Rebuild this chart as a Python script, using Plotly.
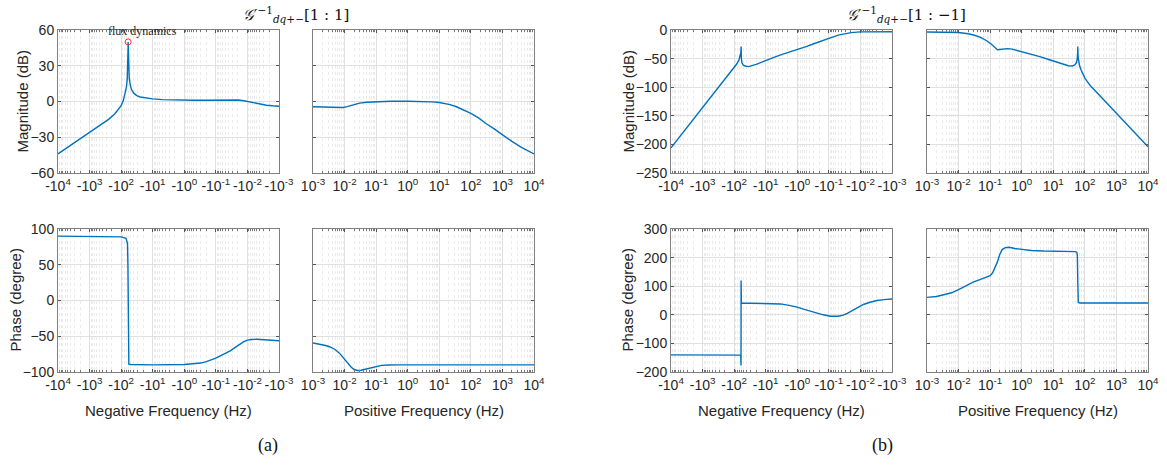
import math
import plotly.graph_objects as go

# ---------------- data (frequency magnitudes in Hz; negative panels plot -|f|) ----------------
# (a) magnitude, negative frequency
f_a_neg_mag = [1e4, 6e3, 4e3, 2.5e3, 1.6e3, 1e3, 630, 400, 250, 160, 120, 100, 85, 75, 68, 64, 62,
               61, 60.4, 60.0, 59.6, 59, 57.8, 55.5, 52, 47, 40, 32, 25, 16, 10, 5, 2, 1, 0.5, 0.2,
               0.1, 0.05, 0.03, 0.02, 0.013, 0.009, 0.006, 0.004, 0.0025, 0.0016, 0.001]
mag_a_neg = [-44, -40, -36.5, -33, -29.5, -26, -22.5, -19, -15, -10.5, -6.5, -3.5, 1, 6, 12, 19, 27,
             35, 44, 50, 44, 35, 27, 20, 14.5, 10, 7, 5, 3.8, 2.8, 2.2, 1.6, 1.2, 1, 1, 1,
             1.1, 1.2, 1.3, 1.2, 0.6, -0.3, -1.3, -2.3, -3.1, -3.6, -4]
# (a) magnitude, positive frequency
f_a_pos_mag = [0.001, 0.002, 0.004, 0.007, 0.009, 0.012, 0.016, 0.022, 0.03, 0.05, 0.1, 0.3, 1, 3,
               6, 10, 15, 22, 35, 55, 100, 180, 300, 550, 1e3, 2e3, 4e3, 1e4]
mag_a_pos = [-4.4, -4.6, -4.9, -5.1, -5.0, -4.3, -3.3, -2.2, -1.4, -0.6, -0.1, 0.2, 0.2, 0.1,
             -0.3, -0.8, -1.5, -2.6, -4.4, -6.7, -10, -14, -18.5, -23, -28, -33.5, -38.5, -44]
# (a) phase, negative frequency
f_a_neg_ph = [1e4, 1e3, 200, 100, 70, 63, 61, 60.3, 59.6, 59, 57, 50, 10, 1, 0.5, 0.3, 0.2, 0.13,
              0.1, 0.07, 0.05, 0.035, 0.025, 0.018, 0.013, 0.01, 0.0075, 0.005, 0.003, 0.0015, 0.001]
ph_a_neg = [90, 90, 89.5, 89, 87, 80, 50, 0, -60, -85, -89, -89.5, -90, -89.5, -88.8, -87.5, -85.5,
            -82.5, -80.5, -77, -74, -70.5, -66, -61.5, -57.5, -55.5, -54.5, -54.3, -54.8, -55.6, -56.2]
# (a) phase, positive frequency
f_a_pos_ph = [0.001, 0.0016, 0.0025, 0.0035, 0.005, 0.007, 0.009, 0.012, 0.016, 0.02, 0.026, 0.033,
              0.045, 0.065, 0.1, 0.15, 0.25, 0.5, 1e4]
ph_a_pos = [-59.5, -61, -63, -65, -68.5, -74, -80, -87, -93, -96.5, -97.8, -97.5, -96, -94, -92,
            -90.8, -90.2, -90, -90]

# (b) magnitude, negative frequency
f_b_neg_mag = [1e4, 1e3, 300, 174, 100, 83, 70, 64, 61.5, 60.3, 60.0, 59.7, 59, 57, 52, 45, 35, 20,
               10, 5, 3, 2, 1, 0.5, 0.3, 0.2, 0.1, 0.05, 0.03, 0.02, 0.01, 0.005, 0.001]
mag_b_neg = [-206, -135.3, -98.3, -81.6, -65, -59.5, -52, -46, -40, -32, -29, -40, -50, -57, -61,
             -63, -64, -60, -53, -47, -42.5, -39.5, -35, -28.5, -24, -20, -14.5, -9, -6, -4.5,
             -3.3, -3, -3]
# (b) magnitude, positive frequency
f_b_pos_mag = [0.001, 0.003, 0.006, 0.01, 0.02, 0.03, 0.05, 0.08, 0.11, 0.14, 0.17, 0.2, 0.25, 0.35,
               0.5, 0.9, 2, 4, 8, 17, 30, 40, 48, 54, 57.5, 59.2, 60, 60.6, 62, 64, 68, 75, 85,
               100, 130, 150, 300, 1e3, 3e3, 1e4]
mag_b_pos = [-3.5, -3.7, -3.9, -4.3, -6.5, -8.7, -13, -19.2, -25, -30.5, -34.5, -34, -33, -32.5,
             -33.5, -37, -42, -47, -52.5, -58.5, -62.5, -63, -61, -57, -50, -40, -29, -42, -50,
             -56, -62, -69, -76, -84, -93, -97.5, -115, -145, -173, -204]
# (b) phase, negative frequency
f_b_neg_ph = [1e4, 100, 62, 60.5, 60.2, 60.0, 59, 30, 10, 3.4, 2, 1, 0.6, 0.3, 0.15, 0.09, 0.07,
              0.05, 0.035, 0.026, 0.015, 0.008, 0.005, 0.003, 0.0018, 0.001]
ph_b_neg = [-140, -140, -141, -177, 120, 45, 41, 40.5, 40, 38, 34, 27, 19, 9, 0, -5, -6, -5, -1,
            5, 20, 36, 44, 50, 53, 55]
# (b) phase, positive frequency
f_b_pos_ph = [0.001, 0.002, 0.0034, 0.006, 0.01, 0.018, 0.03, 0.05, 0.08, 0.1, 0.12, 0.14, 0.17,
              0.2, 0.24, 0.3, 0.4, 0.6, 1, 2, 5, 20, 50, 56, 58, 59.5, 60.5, 62, 70, 1e4]
ph_b_pos = [61, 64, 70, 77, 88, 103, 115, 124, 131, 137, 147, 163, 185, 210, 228, 235, 236, 232,
            228, 225, 223, 222, 221, 218, 205, 120, 50, 43, 41, 41]

# marker for the resonance peak
peak_f = [60.0]
peak_mag = [50]

decades = [-3, -2, -1, 0, 1, 2, 3, 4]
neg_ticktext = ["-10<sup>%d</sup>" % d for d in decades]
pos_ticktext = ["10<sup>%d</sup>" % d for d in decades]

# ---------------- layout helpers ----------------
W, H = 1167, 466


def px_x(p):
    return p / W


def px_y(p):
    return 1 - p / H


BLUE = "#0072BD"
TICKFONT = dict(family="Liberation Sans, Arial", size=14, color="#262626")
minor_vals = [m * 10 ** d for d in range(-3, 4) for m in range(2, 10)]

fig = go.Figure()

panels = [
    ("a_nm", (58, 279), (30, 173), f_a_neg_mag, mag_a_neg, True),
    ("a_pm", (313, 534), (30, 173), f_a_pos_mag, mag_a_pos, False),
    ("a_np", (58, 279), (229, 372), f_a_neg_ph, ph_a_neg, True),
    ("a_pp", (313, 534), (229, 372), f_a_pos_ph, ph_a_pos, False),
    ("b_nm", (671, 892), (30, 173), f_b_neg_mag, mag_b_neg, True),
    ("b_pm", (927, 1148), (30, 173), f_b_pos_mag, mag_b_pos, False),
    ("b_np", (671, 892), (229, 372), f_b_neg_ph, ph_b_neg, True),
    ("b_pp", (927, 1148), (229, 372), f_b_pos_ph, ph_b_pos, False),
]
yspec = {
    "a_nm": (-60, 60, 30, True), "a_pm": (-60, 60, 30, False),
    "a_np": (-100, 100, 50, True), "a_pp": (-100, 100, 50, False),
    "b_nm": (-250, 0, 50, True), "b_pm": (-250, 0, 50, False),
    "b_np": (-200, 300, 100, True), "b_pp": (-200, 300, 100, False),
}

for i, (name, xr, yr, fr, vals, neg) in enumerate(panels):
    k = "" if i == 0 else str(i + 1)
    fig.add_trace(go.Scatter(x=fr, y=vals, mode="lines", line=dict(color=BLUE, width=1.4),
                             xaxis="x" + k, yaxis="y" + k, showlegend=False, hoverinfo="skip"))
    ylo, yhi, ydt, showlab = yspec[name]
    fig.layout["xaxis" + k] = dict(
        type="log", domain=[px_x(xr[0]), px_x(xr[1])], anchor="y" + k, automargin=False,
        range=[4, -3] if neg else [-3, 4],
        tickmode="array", tickvals=[10 ** d for d in decades],
        ticktext=neg_ticktext if neg else pos_ticktext, ticklabeloverflow="allow",
        ticks="inside", ticklen=3, tickcolor="#555", mirror="allticks",
        showline=True, linecolor="#808080", linewidth=1,
        showgrid=True, gridcolor="#e0e0e0", gridwidth=1,
        minor=dict(tickmode="array", tickvals=minor_vals, ticks="inside", ticklen=2,
                   tickcolor="#777", showgrid=True, gridcolor="#ebebeb", griddash="dot"),
        tickfont=TICKFONT, zeroline=False, fixedrange=True,
    )
    fig.layout["yaxis" + k] = dict(
        domain=[px_y(yr[1]), px_y(yr[0])], anchor="x" + k, automargin=False,
        range=[ylo, yhi], tickmode="linear", tick0=ylo, dtick=ydt,
        showticklabels=showlab, ticks="inside", ticklen=3, tickcolor="#555", mirror="allticks",
        showline=True, linecolor="#808080", linewidth=1,
        showgrid=True, gridcolor="#e0e0e0", gridwidth=1, zeroline=False,
        tickfont=TICKFONT, fixedrange=True,
    )

# peak marker and label on panel (a) magnitude negative
fig.add_trace(go.Scatter(x=peak_f, y=peak_mag, mode="markers", xaxis="x", yaxis="y",
                         marker=dict(symbol="circle-open", color="#FF3030", size=6, line=dict(width=1)),
                         showlegend=False, hoverinfo="skip"))

annotations = [
    dict(x=math.log10(peak_f[0]), y=peak_mag[0], xref="x", yref="y", xanchor="left", yanchor="bottom",
         text="flux dynamics", showarrow=False, xshift=-22, yshift=2,
         font=dict(family="Liberation Serif, Times New Roman", size=12, color="#262626")),
]

TITLEFONT = dict(family="Liberation Sans, Arial", size=15, color="#262626")
serif = dict(family="DejaVu Serif, Liberation Serif", size=15, color="#111")
title_txt = "<i>𝒢</i>′<sup>−1</sup><sub><i>dq</i>+−</sub>[1 : %s]"
annotations += [
    dict(x=px_x(296), y=px_y(15), xref="paper", yref="paper", text=title_txt % "1",
         showarrow=False, xanchor="center", yanchor="middle", font=serif),
    dict(x=px_x(907), y=px_y(15), xref="paper", yref="paper", text=title_txt % "−1",
         showarrow=False, xanchor="center", yanchor="middle", font=serif),
]
# axis titles
for cx, txt in [(168.5, "Negative Frequency (Hz)"), (423.5, "Positive Frequency (Hz)"),
                (781.5, "Negative Frequency (Hz)"), (1037.5, "Positive Frequency (Hz)")]:
    annotations.append(dict(x=px_x(cx), y=px_y(410), xref="paper", yref="paper", text=txt,
                            showarrow=False, xanchor="center", yanchor="middle", font=TITLEFONT))
for cx, cy, txt in [(22, 101.5, "Magnitude (dB)"), (15, 300.5, "Phase (degree)"),
                    (628, 101.5, "Magnitude (dB)"), (627, 300.5, "Phase (degree)")]:
    annotations.append(dict(x=px_x(cx), y=px_y(cy), xref="paper", yref="paper", text=txt,
                            textangle=-90, showarrow=False, xanchor="center", yanchor="middle",
                            font=TITLEFONT))
for cx, txt in [(268, "(a)"), (882, "(b)")]:
    annotations.append(dict(x=px_x(cx), y=px_y(445), xref="paper", yref="paper", text=txt,
                            showarrow=False, xanchor="center", yanchor="middle",
                            font=dict(family="Liberation Serif, Times New Roman", size=18, color="#111")))

fig.update_layout(width=W, height=H, margin=dict(l=0, r=0, t=0, b=0),
                  paper_bgcolor="white", plot_bgcolor="white", annotations=annotations)

# remove the default 8 px page margin so the figure fills the window exactly
fig.write_html("out.html", config={"displayModeBar": False},
               post_script="document.body.style.margin='0px';document.body.style.overflow='hidden';")
